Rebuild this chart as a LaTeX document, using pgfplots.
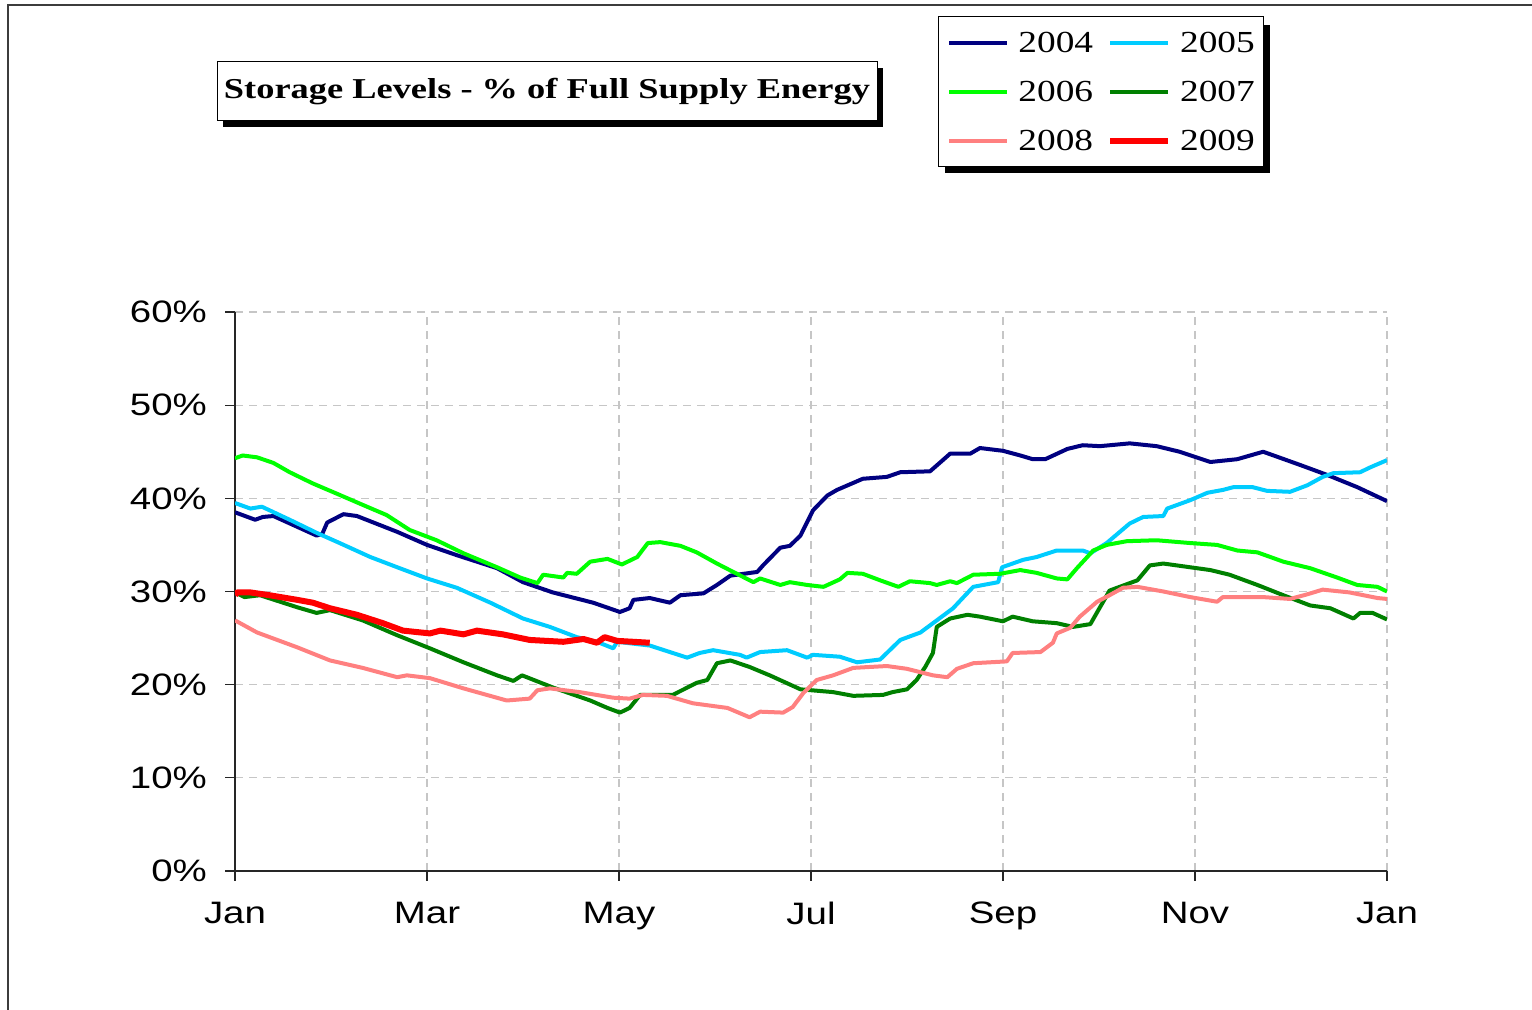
\documentclass[border=0pt]{standalone}
\usepackage{pgfplots}
\pgfplotsset{compat=1.18}
\usepackage{fontspec}
\usetikzlibrary{shadows}
\setmainfont{Liberation Serif}[FakeStretch=1.22]
\newfontfamily\labfont{Liberation Sans}[FakeStretch=1.24]
\definecolor{c2004}{RGB}{0,0,128}
\definecolor{c2005}{RGB}{0,204,255}
\definecolor{c2006}{RGB}{0,255,0}
\definecolor{c2007}{RGB}{0,128,0}
\definecolor{c2008}{RGB}{255,128,128}
\definecolor{c2009}{RGB}{255,0,0}
\definecolor{frame}{RGB}{60,60,60}
\begin{document}
\begin{tikzpicture}
\path[use as bounding box] (0,0) rectangle (766pt,505pt);
\draw[frame, line width=1pt] (4pt,0) -- (4pt,502.5pt) -- (766pt,502.5pt);
% legend shadow (drawn first, legend box on top)
\fill[black] (472.5pt,418.5pt) rectangle (635pt,492.5pt);
\begin{axis}[
  at={(117.5pt,69.5pt)}, anchor=south west,
  scale only axis, width=576pt, height=279.5pt,
  xmin=0, xmax=12, ymin=0, ymax=60,
  axis x line=bottom, axis y line=left,
  axis line style={-, black!85, line width=0.6pt},
  tick align=outside, major tick length=5pt,
  tick style={black!85, line width=0.6pt},
  xtick={0,2,4,6,8,10,12},
  xticklabels={Jan,Mar,May,Jul,Sep,Nov,Jan},
  ytick={0,10,20,30,40,50,60},
  yticklabels={0\%,10\%,20\%,30\%,40\%,50\%,60\%},
  ticklabel style={font=\labfont\fontsize{15.5pt}{18pt}\selectfont},
  xticklabel style={yshift=-7pt},
  yticklabel style={xshift=-5.5pt},
  grid=major,
  major grid style={gray!45, line width=0.6pt, dash pattern=on 4pt off 3pt},
  every axis plot/.append style={line width=2pt, line join=round, no markers},
  legend columns=2,
  legend style={at={(0.6102,1.5295)}, anchor=north west,
    draw=black, line width=0.5pt, fill=white,
    font=\fontsize{15.3pt}{16pt}\selectfont,
    inner xsep=4.5pt, inner ysep=8pt,
    nodes={inner sep=0pt, text height=10pt, text depth=0pt},
    row sep=14.5pt,
    /tikz/every odd column/.append style={column sep=4.5pt},
    /tikz/every even column/.append style={column sep=7pt}},
  legend image code/.code={\draw[#1] (0pt,0pt) -- (29pt,0pt);},
]
\addplot[c2004] coordinates {
(0.00,38.5)(0.21,37.7)(0.29,38.0)(0.40,38.1)(0.55,37.4)(0.85,36.0)(0.91,36.2)(0.96,37.4)
(1.13,38.3)(1.27,38.1)(1.69,36.4)(2.00,35.0)(2.31,33.9)(2.73,32.5)(3.00,31.0)(3.31,29.9)
(3.73,28.8)(4.01,27.8)(4.11,28.2)(4.15,29.1)(4.32,29.3)(4.53,28.8)(4.64,29.6)(4.88,29.8)
(5.02,30.7)(5.16,31.7)(5.44,32.1)(5.50,32.8)(5.68,34.7)(5.78,34.9)(5.89,36.0)(6.02,38.7)
(6.17,40.3)(6.27,40.9)(6.54,42.1)(6.79,42.3)(6.93,42.8)(7.24,42.9)(7.34,43.8)(7.45,44.8)
(7.66,44.8)(7.76,45.4)(8.00,45.1)(8.18,44.6)(8.31,44.2)(8.44,44.2)(8.67,45.3)(8.83,45.7)
(9.01,45.6)(9.32,45.9)(9.60,45.6)(9.84,45.0)(10.16,43.9)(10.44,44.2)(10.71,45.0)(11.09,43.6)
(11.38,42.5)(11.69,41.2)(12.00,39.7)};
\addlegendentry{2004}
\addplot[c2005] coordinates {
(0.00,39.5)(0.16,38.9)(0.28,39.1)(0.57,37.7)(0.85,36.3)(1.09,35.2)(1.41,33.7)(1.69,32.6)
(2.00,31.4)(2.31,30.4)(2.66,28.8)(3.00,27.1)(3.28,26.2)(3.56,25.1)(3.77,24.6)(3.94,23.9)
(3.98,24.6)(4.32,24.2)(4.53,23.5)(4.71,22.9)(4.84,23.4)(4.98,23.7)(5.26,23.2)(5.33,22.9)
(5.47,23.5)(5.75,23.7)(5.96,22.9)(6.02,23.2)(6.30,23.0)(6.48,22.4)(6.72,22.7)(6.82,23.7)
(6.93,24.8)(7.14,25.6)(7.31,26.9)(7.48,28.2)(7.58,29.3)(7.69,30.5)(7.95,31.0)(7.99,32.6)
(8.21,33.4)(8.35,33.7)(8.56,34.4)(8.83,34.4)(8.91,34.1)(9.08,35.2)(9.32,37.3)(9.46,38.0)
(9.67,38.1)(9.71,38.9)(9.95,39.8)(10.13,40.6)(10.29,40.9)(10.40,41.2)(10.60,41.2)(10.75,40.8)
(10.99,40.7)(11.17,41.4)(11.33,42.3)(11.44,42.7)(11.72,42.8)(11.82,43.3)(12.00,44.1)};
\addlegendentry{2005}
\addplot[c2006] coordinates {
(0.00,44.3)(0.08,44.6)(0.23,44.4)(0.40,43.8)(0.57,42.8)(0.81,41.6)(1.06,40.5)(1.33,39.3)
(1.58,38.2)(1.82,36.6)(2.10,35.5)(2.38,34.1)(2.73,32.6)(2.97,31.5)(3.15,30.9)(3.21,31.8)
(3.42,31.5)(3.46,32.0)(3.56,31.9)(3.70,33.2)(3.88,33.5)(4.03,32.9)(4.19,33.7)(4.30,35.2)
(4.43,35.3)(4.64,34.9)(4.81,34.2)(5.02,33.0)(5.19,32.1)(5.40,31.0)(5.47,31.4)(5.68,30.7)
(5.78,31.0)(5.96,30.7)(6.13,30.5)(6.30,31.3)(6.38,32.0)(6.54,31.9)(6.72,31.2)(6.91,30.5)
(7.03,31.1)(7.24,30.9)(7.31,30.7)(7.45,31.1)(7.52,30.9)(7.69,31.8)(7.97,31.9)(8.18,32.3)
(8.35,32.0)(8.56,31.4)(8.67,31.3)(8.77,32.5)(8.94,34.4)(9.08,35.0)(9.29,35.4)(9.60,35.5)
(9.95,35.2)(10.23,35.0)(10.44,34.4)(10.65,34.2)(10.92,33.2)(11.20,32.5)(11.48,31.5)(11.69,30.7)
(11.90,30.5)(12.00,30.0)};
\addlegendentry{2006}
\addplot[c2007] coordinates {
(0.00,29.9)(0.10,29.4)(0.26,29.6)(0.65,28.3)(0.85,27.7)(0.99,28.0)(1.33,26.9)(1.69,25.3)
(2.03,23.9)(2.38,22.4)(2.73,21.0)(2.90,20.4)(2.99,21.0)(3.31,19.7)(3.70,18.3)(3.88,17.5)
(4.01,17.0)(4.11,17.5)(4.22,18.9)(4.56,18.9)(4.81,20.2)(4.92,20.5)(5.02,22.3)(5.16,22.6)
(5.36,21.9)(5.57,21.0)(5.89,19.5)(6.23,19.2)(6.44,18.8)(6.75,18.9)(6.85,19.2)(7.00,19.5)
(7.10,20.5)(7.19,21.9)(7.27,23.4)(7.31,26.2)(7.45,27.1)(7.63,27.5)(7.76,27.3)(8.00,26.8)
(8.10,27.3)(8.31,26.8)(8.56,26.6)(8.73,26.2)(8.91,26.5)(9.01,28.3)(9.11,30.1)(9.40,31.2)
(9.53,32.8)(9.67,33.0)(9.95,32.6)(10.16,32.3)(10.36,31.8)(10.65,30.7)(10.92,29.6)(11.20,28.5)
(11.41,28.2)(11.65,27.1)(11.72,27.7)(11.85,27.7)(12.00,27.0)};
\addlegendentry{2007}
\addplot[c2008] coordinates {
(0.00,26.9)(0.23,25.6)(0.65,24.0)(0.99,22.6)(1.33,21.8)(1.69,20.8)(1.79,21.0)(2.03,20.7)
(2.38,19.6)(2.83,18.3)(3.07,18.5)(3.15,19.4)(3.28,19.6)(3.59,19.2)(3.94,18.6)(4.11,18.5)
(4.25,18.9)(4.50,18.8)(4.77,18.0)(5.13,17.5)(5.36,16.5)(5.47,17.1)(5.71,17.0)(5.81,17.6)
(5.92,19.1)(6.06,20.5)(6.23,21.0)(6.44,21.8)(6.79,22.0)(7.00,21.7)(7.27,21.0)(7.42,20.8)
(7.52,21.7)(7.69,22.3)(8.04,22.5)(8.10,23.4)(8.39,23.5)(8.52,24.5)(8.56,25.5)(8.70,26.1)
(8.80,27.3)(8.98,28.9)(9.11,29.6)(9.25,30.4)(9.40,30.5)(9.67,30.0)(9.95,29.4)(10.23,28.9)
(10.29,29.4)(10.71,29.4)(10.99,29.2)(11.17,29.7)(11.33,30.2)(11.61,29.9)(11.90,29.3)(12.00,29.2)};
\addlegendentry{2008}
\addplot[c2009, line width=3pt] coordinates {
(0.00,29.6)(0.02,29.9)(0.16,29.9)(0.36,29.6)(0.65,29.1)(0.81,28.8)(0.99,28.2)(1.27,27.5)
(1.54,26.6)(1.75,25.8)(2.03,25.5)(2.14,25.8)(2.38,25.4)(2.52,25.8)(2.79,25.4)(3.07,24.8)
(3.42,24.6)(3.63,24.9)(3.77,24.5)(3.85,25.1)(3.98,24.7)(4.32,24.5)};
\addlegendentry{2009}
\end{axis}
\node[draw=black, line width=0.5pt, fill=white, inner sep=0pt,
  minimum width=330pt, minimum height=29.5pt,
  drop shadow={shadow xshift=3pt, shadow yshift=-3pt, fill=black, opacity=1}]
  at (273.5pt,459.25pt) {\resizebox{323pt}{\height}{\fontsize{14.4pt}{16pt}\selectfont\bfseries Storage Levels - \% of Full Supply Energy}};
\end{tikzpicture}
\end{document}
